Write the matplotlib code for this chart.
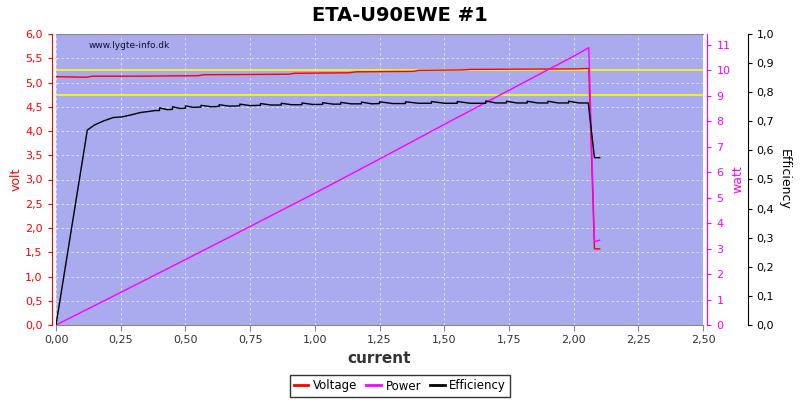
import matplotlib
matplotlib.use("Agg")
import matplotlib.pyplot as plt
from matplotlib.ticker import FuncFormatter, MultipleLocator

# voltage curve (A, V)
v_current = [0.00, 0.10, 0.12, 0.14, 0.30, 0.55, 0.57, 0.90, 0.92, 1.13,
             1.16, 1.38, 1.40, 1.57, 1.60, 2.00, 2.058, 2.08, 2.10]
voltage = [5.12, 5.11, 5.11, 5.13, 5.13, 5.14, 5.16, 5.17, 5.19, 5.20,
           5.22, 5.23, 5.25, 5.26, 5.27, 5.28, 5.29, 1.57, 1.57]

# power curve (A, W)
p_current = [0.00, 0.25, 0.50, 0.75, 1.00, 1.25, 1.50, 1.75, 2.00, 2.058, 2.08, 2.10]
power = [0.00, 1.28, 2.57, 3.87, 5.18, 6.52, 7.88, 9.22, 10.56, 10.89, 3.27, 3.33]

# efficiency curve (A, fraction)
e_current = [0.00, 0.121, 0.15, 0.183, 0.221, 0.254, 0.29, 0.325, 0.36, 0.383,
             0.40, 0.40, 0.43, 0.45, 0.45, 0.48, 0.50, 0.50, 0.53, 0.56,
             0.56, 0.60, 0.63, 0.63, 0.67, 0.71, 0.71, 0.75, 0.79, 0.79,
             0.83, 0.87, 0.87, 0.91, 0.95, 0.95, 0.99, 1.03, 1.03, 1.07,
             1.10, 1.10, 1.14, 1.18, 1.18, 1.22, 1.25, 1.25, 1.30, 1.35,
             1.35, 1.40, 1.45, 1.45, 1.50, 1.55, 1.55, 1.60, 1.66, 1.66,
             1.70, 1.74, 1.74, 1.78, 1.82, 1.82, 1.86, 1.90, 1.90, 1.94,
             1.98, 1.98, 2.02, 2.056, 2.08, 2.10]
efficiency = [0.000, 0.670, 0.688, 0.701, 0.713, 0.715, 0.722, 0.730, 0.734, 0.737,
              0.737, 0.746, 0.740, 0.741, 0.750, 0.744, 0.745, 0.753, 0.748, 0.749,
              0.755, 0.750, 0.751, 0.757, 0.752, 0.753, 0.759, 0.754, 0.755, 0.761,
              0.756, 0.756, 0.762, 0.757, 0.757, 0.763, 0.758, 0.758, 0.764, 0.759,
              0.759, 0.765, 0.760, 0.760, 0.766, 0.760, 0.761, 0.767, 0.761, 0.761,
              0.767, 0.762, 0.762, 0.768, 0.762, 0.762, 0.768, 0.762, 0.762, 0.770,
              0.763, 0.763, 0.769, 0.763, 0.763, 0.769, 0.763, 0.763, 0.769, 0.763,
              0.763, 0.769, 0.763, 0.763, 0.575, 0.575]

limit_lines = [4.75, 5.25]

comma = FuncFormatter(lambda v, _: f"{v:.1f}".replace(".", ","))
comma2 = FuncFormatter(lambda v, _: f"{v:.2f}".replace(".", ","))

fig = plt.figure(figsize=(8, 4), dpi=100)
ax = fig.add_axes([0.07, 0.1875, 0.809, 0.7275])
ax.set_facecolor("#AAAAEE")
ax.set_xlim(0, 2.5)
ax.set_ylim(0, 6)
ax.xaxis.set_major_locator(MultipleLocator(0.25))
ax.yaxis.set_major_locator(MultipleLocator(0.5))
ax.xaxis.set_major_formatter(comma2)
ax.yaxis.set_major_formatter(comma)
ax.grid(True, color="white", linestyle=(0, (3, 3)), linewidth=0.6, alpha=0.7)
ax.set_axisbelow(True)

for y in limit_lines:
    ax.axhline(y, color="yellow", linewidth=1.2, zorder=2)

ax.plot(v_current, voltage, color="red", linewidth=1.0, zorder=4)

ax.spines["left"].set_position(("outward", 3))
ax.spines["left"].set_color("red")
ax.spines["right"].set_visible(False)
ax.spines["top"].set_color("#888888")
ax.spines["bottom"].set_color("#888888")
ax.tick_params(axis="y", colors="red", labelsize=8, length=3)
ax.tick_params(axis="x", colors="#888888", labelcolor="#333333", labelsize=8, length=4)
ax.set_ylabel("volt", color="red", fontsize=9, labelpad=2)
ax.set_xlabel("current", fontsize=11, fontweight="bold", color="#333333")

axp = ax.twinx()
axp.set_ylim(0, 11.43)
axp.yaxis.set_major_locator(MultipleLocator(1))
axp.plot(p_current, power, color="#FF00FF", linewidth=1.0, zorder=3)
axp.spines["right"].set_position(("outward", 3))
axp.spines["right"].set_color("#FF00FF")
for s in ("left", "top", "bottom"):
    axp.spines[s].set_visible(False)
axp.tick_params(axis="y", colors="#FF00FF", labelsize=8, length=3)
axp.set_ylabel("watt", color="#FF00FF", fontsize=9, labelpad=1)

axe = ax.twinx()
axe.set_ylim(0, 1.0)
axe.yaxis.set_major_locator(MultipleLocator(0.1))
axe.yaxis.set_major_formatter(comma)
axe.plot(e_current, efficiency, color="black", linewidth=1.0, zorder=3)
axe.spines["right"].set_position(("outward", 32))
axe.spines["right"].set_color("black")
for s in ("left", "top", "bottom"):
    axe.spines[s].set_visible(False)
axe.tick_params(axis="y", colors="black", labelsize=8, length=3)
axe.set_ylabel("Efficiency", rotation=270, labelpad=12, fontsize=9)

ax.text(0.05, 0.975, "www.lygte-info.dk", transform=ax.transAxes,
        fontsize=6.5, va="top", ha="left", color="#111133")

fig.suptitle("ETA-U90EWE #1", fontsize=14, fontweight="bold", y=0.985)

handles = [plt.Line2D([], [], color="red", linewidth=2),
           plt.Line2D([], [], color="#FF00FF", linewidth=2),
           plt.Line2D([], [], color="black", linewidth=2)]
leg = fig.legend(handles, ["Voltage", "Power", "Efficiency"], loc="center",
                 bbox_to_anchor=(0.5, 0.035), ncol=3, fontsize=8.5,
                 frameon=True, fancybox=False, handlelength=1.2,
                 handletextpad=0.4, columnspacing=0.8, borderpad=0.35)
leg.get_frame().set_edgecolor("black")
leg.get_frame().set_linewidth(1.0)

fig.savefig("out.png", dpi=100)
